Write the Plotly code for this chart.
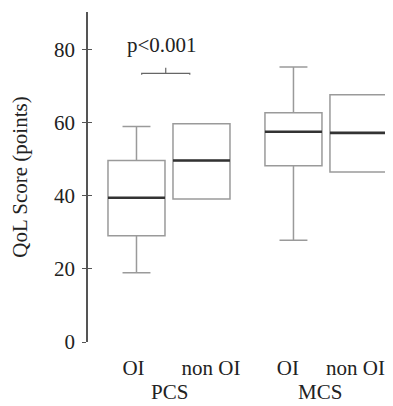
import plotly.graph_objects as go

# ---- data ----
groups = ["PCS", "PCS", "MCS", "MCS"]
subgroups = ["OI", "non OI", "OI", "non OI"]
positions = [0.0, 1.0, 2.415, 3.415]
label_positions = [-0.046, 1.146, 2.33, 3.37]
group_names = ["PCS", "MCS"]
group_label_positions = [0.515, 2.82]
lower = [19.0, 39.2, 27.9, 46.6]
q1 = [29.1, 39.2, 48.3, 46.6]
median = [39.5, 49.7, 57.6, 57.3]
q3 = [49.7, 59.8, 62.8, 67.7]
upper = [59.0, 59.8, 75.3, 67.7]

y_ticks = [0, 20, 40, 60, 80]
y_max = 90.4

bracket_x = [0.08, 0.08, 0.45, 0.45, 0.45, 0.82, 0.82]
bracket_y = [73.2, 73.6, 73.6, 75.1, 73.6, 73.6, 73.2]
p_label = "p<0.001"
p_label_x = 0.39
p_label_y = 81.4

y_title = "QoL Score (points)"

FONT = "Liberation Serif, Times New Roman, serif"
TXT = "#222222"
box_w = 0.877

fig = go.Figure()

for i in range(len(positions)):
    fig.add_trace(go.Box(
        x=[positions[i]],
        q1=[q1[i]], median=[median[i]], q3=[q3[i]],
        lowerfence=[lower[i]], upperfence=[upper[i]],
        width=box_w, whiskerwidth=0.49,
        fillcolor="white",
        line=dict(color="#9a9a9a", width=1.5),
        boxpoints=False, hoverinfo="skip", showlegend=False,
    ))
    # thick dark median
    fig.add_trace(go.Scatter(
        x=[positions[i] - box_w / 2, positions[i] + box_w / 2],
        y=[median[i], median[i]],
        mode="lines", line=dict(color="#333333", width=2.6),
        hoverinfo="skip", showlegend=False,
    ))

# significance bracket
fig.add_trace(go.Scatter(
    x=bracket_x, y=bracket_y, mode="lines",
    line=dict(color="#666666", width=1.2),
    hoverinfo="skip", showlegend=False,
))
fig.add_annotation(x=p_label_x, y=p_label_y, xref="x", yref="y",
                   text=p_label, showarrow=False,
                   font=dict(family=FONT, size=21, color=TXT))

# group labels
for g, gx in zip(group_names, group_label_positions):
    fig.add_annotation(x=gx, y=-0.108, xref="x", yref="paper",
                       yanchor="top", text=g, showarrow=False,
                       font=dict(family=FONT, size=21, color=TXT))

# the page body has an 8px default margin, so the figure is sized to fit
fig.update_layout(
    width=385, height=398,
    margin=dict(l=80, r=5, t=4, b=64, autoexpand=False),
    plot_bgcolor="white", paper_bgcolor="white",
    font=dict(family=FONT, size=21, color=TXT),
    xaxis=dict(
        range=[-0.746, -0.746 + 300 / 65], automargin=False,
        tickvals=label_positions, ticktext=subgroups,
        showline=False, showgrid=False, zeroline=False, ticks="",
        ticklabelstandoff=11, ticklabeloverflow="allow",
        tickfont=dict(family=FONT, size=21, color=TXT),
    ),
    yaxis=dict(
        range=[0, y_max], tickvals=y_ticks, automargin=False,
        showline=True, linecolor="#555555", linewidth=1.5,
        ticks="outside", ticklen=4, tickcolor="#555555", tickwidth=1.3,
        showgrid=False, zeroline=False, ticklabelstandoff=3,
        tickfont=dict(family=FONT, size=21, color=TXT),
        title=dict(text=y_title, standoff=22,
                   font=dict(family=FONT, size=21, color=TXT)),
    ),
    yaxis2=dict(
        overlaying="y", matches="y", range=[0, y_max], tickvals=y_ticks,
        ticks="inside", ticklen=4, tickcolor="#555555", tickwidth=1.3,
        showticklabels=False, showgrid=False, zeroline=False, showline=False,
        side="left", automargin=False,
    ),
)
# dummy trace to show yaxis2 ticks
fig.add_trace(go.Scatter(x=[None], y=[None], yaxis="y2", showlegend=False,
                         hoverinfo="skip"))

fig.write_html("out.html")
